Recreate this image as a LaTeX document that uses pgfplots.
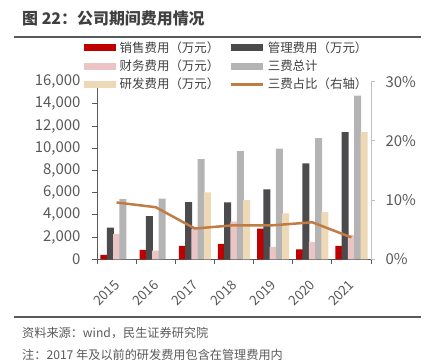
\documentclass[border=0pt]{standalone}
\usepackage{fontspec}
\setmainfont{Noto Sans CJK SC}
\usepackage{pgfplots}
\pgfplotsset{compat=1.18}
\definecolor{cred}{HTML}{C00000}
\definecolor{cdark}{HTML}{4B4B4D}
\definecolor{cpink}{HTML}{EBC4C6}
\definecolor{cgray}{HTML}{B4B4B4}
\definecolor{cbeige}{HTML}{EDD9B6}
\definecolor{cline}{HTML}{C07C45}
\definecolor{tickgray}{HTML}{595959}
\definecolor{axgray}{HTML}{595959}
\definecolor{raxgray}{HTML}{BFBFBF}
\definecolor{legtext}{HTML}{404040}
\definecolor{titlecol}{HTML}{404040}
\pgfplotsset{
  mybar/.style={fill=#1, draw=none,
    legend image code/.code={\path[##1] (0bp,-3.5bp) rectangle (32bp,3.5bp);}},
  linelegend/.style={legend image code/.code={\draw[##1] (0bp,0bp) -- (32bp,0bp);}},
}
\begin{document}
\begin{tikzpicture}
\useasboundingbox (0,0) rectangle (427bp,361bp);
\node[anchor=west, inner sep=0pt, text=titlecol, font=\fontsize{16}{19}\selectfont\bfseries] at (22bp,343bp) {图 22：公司期间费用情况};
\draw[axgray, line width=1.5bp] (14bp,324bp) -- (421bp,324bp);
\draw[axgray, line width=1.5bp] (14bp,44bp) -- (421bp,44bp);
\node[anchor=west, inner sep=0pt, text=tickgray, font=\fontsize{12.2}{14}\selectfont] at (22bp,28bp) {资料来源：wind，民生证券研究院};
\node[anchor=west, inner sep=0pt, text=tickgray, font=\fontsize{12.2}{14}\selectfont] at (22bp,6bp) {注：2017 年及以前的研发费用包含在管理费用内};

\begin{axis}[
  at={(97bp,101.7bp)}, anchor=south west, scale only axis,
  width=274bp, height=177.6bp,
  xmin=-0.5, xmax=6.5, ymin=0, ymax=16000,
  ybar=-0.7bp, bar width=7bp,
  axis x line*=bottom, axis y line*=left,
  axis line style={axgray, line width=0.9bp},
  tick align=outside,
  tick style={axgray, line width=0.9bp},
  major tick length=5bp,
  xtick={0,...,6},
  xticklabels={2015,2016,2017,2018,2019,2020,2021},
  major x tick style={draw=none},
  extra x ticks={-0.5,0.5,...,6.5},
  extra x tick labels={},
  extra x tick style={major x tick style={draw=axgray, line width=0.9bp}},
  xticklabel style={rotate=45, anchor=east, yshift=-13bp, xshift=-9bp, font=\fontsize{13.5}{15}\selectfont, text=tickgray},
  ytick={0,2000,...,16000},
  scaled y ticks=false,
  /pgf/number format/.cd, 1000 sep={,}, assume math mode=true, /pgfplots/.cd,
  yticklabel style={font=\fontsize{15}{17}\selectfont, text=tickgray, xshift=-8bp},
  legend columns=2,
  legend cell align=left,
  legend style={at={(axis description cs:0,1)}, anchor=north west, xshift=-13bp, yshift=42bp,
    draw=none, fill=none, inner sep=0pt,
    font=\fontsize{12.5}{14}\selectfont, text=legtext,
    nodes={inner ysep=2bp, inner xsep=3.5bp},
    row sep=2bp,
    /tikz/every even column/.append style={column sep=7bp}},
]
\addplot[mybar=cred] coordinates {(0,400) (1,840) (2,1200) (3,1380) (4,2760) (5,900) (6,1200)};
\addlegendentry{销售费用（万元）}
\addplot[mybar=cdark] coordinates {(0,2850) (1,3900) (2,5160) (3,5130) (4,6300) (5,8640) (6,11450)};
\addlegendentry{管理费用（万元）}
\addplot[mybar=cpink] coordinates {(0,2280) (1,775) (2,2750) (3,3390) (4,1110) (5,1560) (6,2200)};
\addlegendentry{财务费用（万元）}
\addplot[mybar=cgray] coordinates {(0,5430) (1,5460) (2,9030) (3,9750) (4,9960) (5,10920) (6,14750)};
\addlegendentry{三费总计}
\addplot[mybar=cbeige] coordinates {(0,0) (1,0) (2,6030) (3,5340) (4,4140) (5,4260) (6,11450)};
\addlegendentry{研发费用（万元）}
\addlegendimage{cline, line width=2.5bp, linelegend}
\addlegendentry{三费占比（右轴）}
\end{axis}

\begin{axis}[
  at={(97bp,101.7bp)}, anchor=south west, scale only axis,
  width=274bp, height=177.6bp,
  xmin=-0.5, xmax=6.5, ymin=0, ymax=30,
  axis x line=none, axis y line*=right,
  axis line style={raxgray, line width=0.9bp},
  tick align=outside,
  tick style={raxgray, line width=0.9bp},
  major tick length=4bp,
  ytick={0,10,20,30},
  yticklabel={\pgfmathprintnumber{\tick}\%},
  /pgf/number format/assume math mode=true,
  yticklabel style={font=\fontsize{15}{17}\selectfont, text=tickgray, xshift=7bp},
]
\addplot[cline, line width=2.5bp, mark=none] coordinates {(0,9.6) (1,8.8) (2,5.2) (3,5.75) (4,5.75) (5,6.25) (6,3.7)};
\end{axis}
\end{tikzpicture}
\end{document}
